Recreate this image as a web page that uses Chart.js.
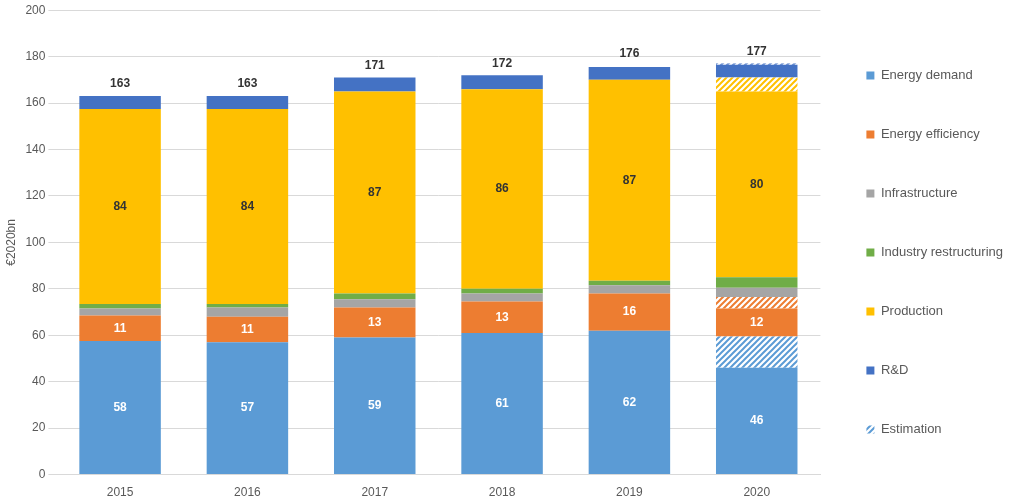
<!DOCTYPE html>
<html><head><meta charset="utf-8">
<script src="https://cdn.jsdelivr.net/npm/chart.js@4"></script>
<style>body{margin:0;background:#fff}#w{width:1023px;height:503px}</style>
</head><body><div id="w"><canvas id="c"></canvas></div>
<script>
const years = ['2015', '2016', '2017', '2018', '2019', '2020'];
const energyDemand = [57.5, 57, 59, 61, 62, 46];
const energyDemandEst = [0, 0, 0, 0, 0, 13.5];
const energyEfficiency = [11, 11, 13, 13.5, 16, 12];
const energyEfficiencyEst = [0, 0, 0, 0, 0, 5];
const infrastructure = [3, 4, 3.5, 3.5, 3.5, 4];
const industry = [2, 1.5, 2.5, 2, 2, 4.5];
const production = [84, 84, 87, 86, 86.5, 80];
const productionEst = [0, 0, 0, 0, 0, 6];
const rd = [5.5, 5.5, 6, 6, 5.5, 5.5];
const rdEst = [0, 0, 0, 0, 0, 0.5];
const totals = [163, 163, 171, 172, 176, 177];
const shownLabels = { 'Energy demand': [58, 57, 59, 61, 62, 46], 'Energy efficiency': [11, 11, 13, 13, 16, 12], 'Production': [84, 84, 87, 86, 87, 80] };

function hatch(color) {
  const p = document.createElement('canvas');
  p.width = 6; p.height = 6;
  const g = p.getContext('2d');
  g.fillStyle = '#fff'; g.fillRect(0, 0, 6, 6);
  g.strokeStyle = color; g.lineWidth = 2;
  g.beginPath(); g.moveTo(0, 6); g.lineTo(6, 0); g.moveTo(-3, 3); g.lineTo(3, -3); g.moveTo(3, 9); g.lineTo(9, 3); g.stroke();
  return g.createPattern(p, 'repeat');
}
const ctx = document.getElementById('c').getContext('2d');
const blue = '#5b9bd5', orange = '#ed7d31', grey = '#a5a5a5', green = '#70ad47', yellow = '#ffc000', navy = '#4472c4';
const ds = (label, data, bg, est) => ({ label, data, backgroundColor: bg, est: !!est, barPercentage: 0.64, categoryPercentage: 1 });

const labelPlugin = {
  id: 'labels',
  afterDatasetsDraw(chart) {
    const c = chart.ctx;
    c.save();
    c.font = 'bold 12px "Liberation Sans", Arial';
    c.textAlign = 'center'; c.textBaseline = 'middle';
    chart.data.datasets.forEach((d, i) => {
      const vals = shownLabels[d.label];
      if (!vals) return;
      chart.getDatasetMeta(i).data.forEach((bar, j) => {
        c.fillStyle = d.label === 'Production' ? '#333' : '#fff';
        c.fillText(vals[j], bar.x, (bar.y + bar.base) / 2);
      });
    });
    const last = chart.getDatasetMeta(chart.data.datasets.length - 1).data;
    c.fillStyle = '#333';
    last.forEach((bar, j) => {
      c.fillText(totals[j], bar.x, chart.scales.y.getPixelForValue(totals[j]) - 12);
    });
    c.restore();
  }
};

new Chart(ctx, {
  type: 'bar',
  data: {
    labels: years,
    datasets: [
      ds('Energy demand', energyDemand, blue),
      ds('Estimation', energyDemandEst, hatch(blue), true),
      ds('Energy efficiency', energyEfficiency, orange),
      ds('EE est', energyEfficiencyEst, hatch(orange), true),
      ds('Infrastructure', infrastructure, grey),
      ds('Industry restructuring', industry, green),
      ds('Production', production, yellow),
      ds('Prod est', productionEst, hatch(yellow), true),
      ds('R&D', rd, navy),
      ds('RD est', rdEst, hatch(navy), true)
    ]
  },
  options: {
    responsive: true, maintainAspectRatio: false, animation: false,
    layout: { padding: { left: 0, right: 10, top: 2, bottom: 0 } },
    scales: {
      x: { stacked: true, grid: { display: false }, border: { color: '#d9d9d9' },
        ticks: { color: '#595959', font: { size: 12, family: '"Liberation Sans", Arial' } } },
      y: { stacked: true, min: 0, max: 200, border: { display: false },
        grid: { color: '#d9d9d9' },
        ticks: { stepSize: 20, color: '#595959', font: { size: 12, family: '"Liberation Sans", Arial' } },
        title: { display: true, text: '€2020bn', color: '#595959', font: { size: 12, family: '"Liberation Sans", Arial' } } }
    },
    plugins: {
      tooltip: { enabled: false },
      legend: {
        position: 'right', reverse: true,
        labels: {
          boxWidth: 8, boxHeight: 8, padding: 46, color: '#595959',
          font: { size: 13, family: '"Liberation Sans", Arial' },
          filter: (item, data) => {
            const d = data.datasets[item.datasetIndex];
            return !d.est || d.label === 'Estimation';
          },
          sort: (a, b) => {
            const order = ['Estimation', 'R&D', 'Production', 'Industry restructuring', 'Infrastructure', 'Energy efficiency', 'Energy demand'];
            return order.indexOf(a.text) - order.indexOf(b.text);
          }
        }
      }
    }
  },
  plugins: [labelPlugin]
});
</script></body></html>
